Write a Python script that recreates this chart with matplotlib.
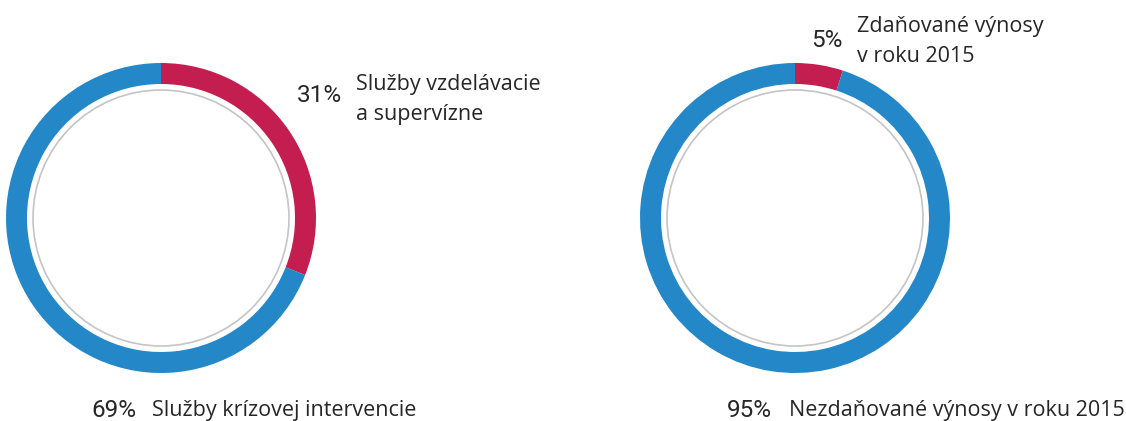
import matplotlib.pyplot as plt
from matplotlib.patches import Circle

# data
left_values = [31, 69]
left_pcts = ["31%", "69%"]
left_labels = ["Služby vzdelávacie\na supervízne", "Služby krízovej intervencie"]

right_values = [5, 95]
right_pcts = ["5%", "95%"]
right_labels = ["Zdaňované výnosy\nv roku 2015", "Nezdaňované výnosy v roku 2015"]

RED = '#c41e50'
BLUE = '#2387c8'
TXT = '#262626'

W, H = 1126, 421
fig = plt.figure(figsize=(W / 100, H / 100), dpi=100)
plt.rcParams['font.family'] = ['Open Sans', 'DejaVu Sans']
PCT_FONT = ['Roboto', 'DejaVu Sans']


def donut(cx, cy, r, values):
    ax = fig.add_axes([(cx - r) / W, (H - cy - r) / H, 2 * r / W, 2 * r / H])
    ax.pie(values, colors=[RED, BLUE], startangle=90, counterclock=False,
           radius=1.0, wedgeprops=dict(width=21 / r, edgecolor='none'))
    ax.add_patch(Circle((0, 0), 128 / r, fill=False, edgecolor='#c4c4c4', lw=1.2))
    ax.set_xlim(-1, 1)
    ax.set_ylim(-1, 1)
    ax.set_aspect('equal')
    ax.axis('off')
    return ax


def pct(x, y, s):
    fig.text(x / W, 1 - y / H, s, fontsize=17.5, color=TXT, va='baseline',
             ha='left', family=PCT_FONT)


def label(x, y, s, step=30):
    for i, line in enumerate(s.split('\n')):
        fig.text(x / W, 1 - (y + i * step) / H, line, fontsize=15.5, color=TXT,
                 va='baseline', ha='left')


donut(161, 218, 155, left_values)
donut(795, 218, 155, right_values)

# left labels
pct(297, 102, left_pcts[0])
label(356, 90, left_labels[0])
pct(91, 417, left_pcts[1])
label(152, 416, left_labels[1])

# right labels
pct(811, 47, right_pcts[0])
label(857, 32, right_labels[0])
pct(727, 417, right_pcts[1])
label(789, 416, right_labels[1])

fig.savefig('out.png', dpi=100, facecolor='white')
